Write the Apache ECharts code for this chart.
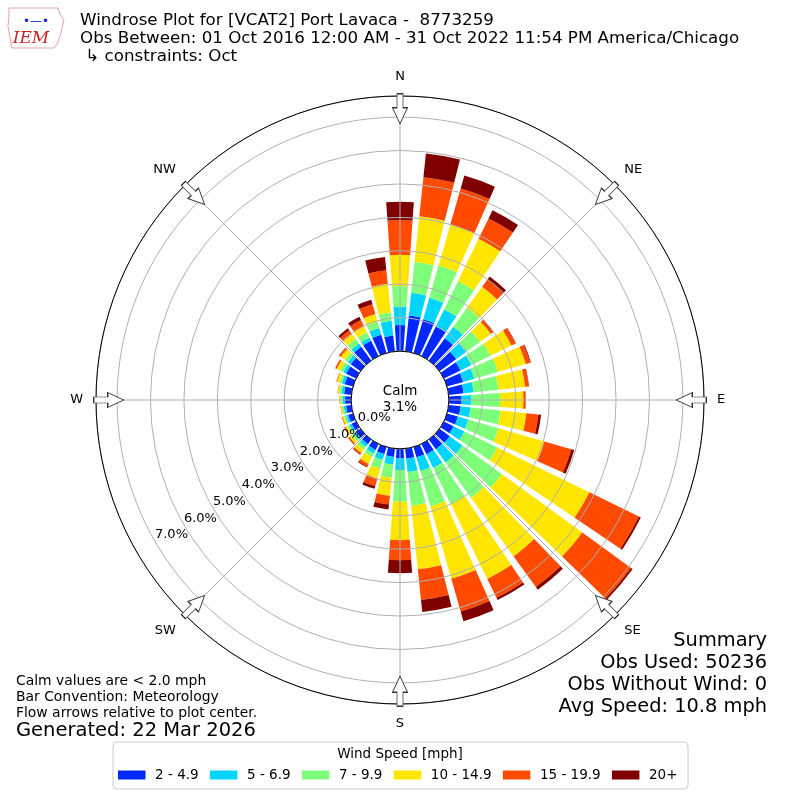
<!DOCTYPE html>
<html><head><meta charset="utf-8">
<script src="https://cdn.jsdelivr.net/npm/echarts@6/dist/echarts.min.js"></script>
<style>html,body{margin:0;padding:0;background:#fff}#c{width:800px;height:800px}</style>
</head><body><div id="c"></div>
<script>
// ---- data (percent of observations) ----
const directions = [0,10,20,30,40,50,60,70,80,90,100,110,120,130,140,150,160,170,180,190,200,210,220,230,240,250,260,270,280,290,300,310,320,330,340,350];
const speedBins = ['2 - 4.9','5 - 6.9','7 - 9.9','10 - 14.9','15 - 19.9','20+'];
const binColors = ['#0028ff','#00d4ff','#7dff7a','#ffe600','#ff4a00','#800000'];
const pct_2_5   = [0.78,1.08,1.05,0.98,0.82,0.62,0.55,0.50,0.45,0.38,0.36,0.34,0.32,0.38,0.36,0.34,0.32,0.30,0.28,0.25,0.22,0.20,0.17,0.16,0.15,0.15,0.16,0.18,0.22,0.26,0.33,0.36,0.51,0.51,0.57,0.48];
const pct_5_7   = [0.55,0.68,0.67,0.57,0.43,0.36,0.37,0.35,0.30,0.30,0.30,0.32,0.36,0.47,0.49,0.46,0.43,0.40,0.35,0.23,0.18,0.12,0.10,0.08,0.07,0.07,0.07,0.08,0.08,0.09,0.10,0.11,0.12,0.11,0.21,0.44];
const pct_7_10  = [0.62,0.93,1.00,0.95,0.70,0.52,0.63,0.73,0.75,0.85,0.90,0.94,1.10,1.45,1.30,1.20,1.10,1.02,0.95,0.39,0.28,0.12,0.11,0.08,0.07,0.06,0.05,0.05,0.06,0.07,0.10,0.11,0.17,0.17,0.20,0.25];
const pct_10_15 = [0.93,1.37,1.28,1.40,0.77,0.40,0.70,0.87,0.80,0.70,0.78,1.43,3.06,2.98,2.17,2.49,2.25,1.91,1.15,0.55,0.30,0.23,0.12,0.09,0.07,0.05,0.04,0.03,0.05,0.08,0.12,0.15,0.18,0.20,0.23,0.86];
const pct_15_20 = [1.04,1.18,1.12,0.68,0.26,0.08,0.14,0.14,0.11,0.06,0.36,0.84,1.65,1.80,1.13,0.63,1.02,0.92,0.60,0.26,0.24,0.09,0.06,0.04,0.03,0.02,0.01,0.01,0.01,0.02,0.05,0.06,0.14,0.21,0.31,0.41];
const pct_20p   = [0.55,0.71,0.40,0.27,0.12,0.02,0.01,0.02,0.01,0.01,0.08,0.09,0.06,0.06,0.10,0.07,0.30,0.36,0.39,0.15,0.08,0.02,0.01,0.01,0.01,0,0,0,0,0,0,0.01,0.07,0.11,0.14,0.40];
const compassLabels = ['N','NE','E','SE','S','SW','W','NW'];
const arrowBearings = [0,45,90,135,180,225,270,315];
const radiusMax = 7.63;
const arrowRadius = 7.25;
const calmPct = '3.1%';

const FONT = 'DejaVu Sans';
const seriesData = [pct_2_5, pct_5_7, pct_7_10, pct_10_15, pct_15_20, pct_20p];

const chart = echarts.init(document.getElementById('c'), null, {renderer: 'canvas'});
const barSeries = speedBins.map((name, i) => ({
  type: 'bar', name, coordinateSystem: 'polar', polarIndex: 0, stack: 'wind',
  data: seriesData[i], barCategoryGap: '20%', z: 2,
  itemStyle: {color: binColors[i]}, emphasis: {disabled: true}, silent: true
}));

const option = {
  animation: false,
  backgroundColor: '#ffffff',
  polar: [
    {center: ['50%', '50%'], radius: [48.9, 304]},
    {center: ['50%', '50%'], radius: [48.9, 304]},
    {center: ['50%', '50%'], radius: [48.9, 304]}
  ],
  angleAxis: [
    {polarIndex: 0, type: 'category', data: directions.map(String), startAngle: 95, clockwise: true,
     axisLine: {show: false}, axisTick: {show: false}, axisLabel: {show: false}, splitLine: {show: false}, z: 1},
    {polarIndex: 1, type: 'value', min: 0, max: 360, interval: 45, startAngle: 90, clockwise: true,
     axisLine: {lineStyle: {color: '#000', width: 1}}, axisTick: {show: false},
     axisLabel: {margin: 13, fontSize: 13, color: '#000', fontFamily: FONT,
       formatter: v => (v >= 360 ? '' : compassLabels[Math.round(v / 45)])},
     splitLine: {lineStyle: {color: '#b0b0b0', width: 1}}, z: 4},
    {polarIndex: 2, type: 'value', min: 0, max: 360, startAngle: 210, clockwise: true, show: false}
  ],
  radiusAxis: [
    {polarIndex: 0, type: 'value', min: 0, max: radiusMax, show: false},
    {polarIndex: 1, type: 'value', min: 0, max: radiusMax, interval: 1,
     axisLine: {show: false}, axisTick: {show: false}, axisLabel: {show: false},
     splitLine: {lineStyle: {color: '#b0b0b0', width: 1}}, z: 3},
    {polarIndex: 2, type: 'value', min: 0, max: radiusMax, interval: 1,
     axisLine: {show: false}, axisTick: {show: false}, splitLine: {show: false},
     axisLabel: {margin: 0, align: 'left', verticalAlign: 'bottom', fontSize: 13, color: '#000', fontFamily: FONT,
       showMaxLabel: false,
       formatter: v => (Math.abs(v - Math.round(v)) < 1e-6 ? v.toFixed(1) + '%' : '')}, z: 6}
  ],
  legend: {
    data: speedBins, left: 113, top: 763, itemWidth: 27.5, itemHeight: 9, itemGap: 11.3,
    icon: 'rect', selectedMode: false,
    textStyle: {fontSize: 13.5, fontFamily: FONT, color: '#000', padding: [0, 0, 0, 4.6]}
  },
  series: barSeries.concat([{
    type: 'scatter', coordinateSystem: 'polar', polarIndex: 1, silent: true, z: 10,
    data: arrowBearings.map(b => [arrowRadius, b]),
    symbol: 'path://M4.5,0 L10.5,0 L10.5,14 L15,14 L7.5,30 L0,14 L4.5,14 Z',
    symbolSize: [15, 30],
    symbolRotate: (val) => -val[1],
    itemStyle: {color: '#ffffff', borderColor: '#333', borderWidth: 1, opacity: 1}
  }]),
  graphic: [
    {type: 'rect', z: 0, shape: {x: 113, y: 742, width: 575, height: 47, r: 4},
     style: {fill: '#ffffff', stroke: '#cccccc', lineWidth: 1}},
    {type: 'text', x: 400, y: 754, z: 5,
     style: {text: 'Wind Speed [mph]', align: 'center', verticalAlign: 'middle', fontSize: 13.5, fontFamily: FONT, fill: '#000'}},
    {type: 'text', x: 80, y: 12, z: 5,
     style: {text: 'Windrose Plot for [VCAT2] Port Lavaca -  8773259\nObs Between: 01 Oct 2016 12:00 AM - 31 Oct 2022 11:54 PM America/Chicago\n \u21B3 constraints: Oct',
       align: 'left', verticalAlign: 'top', fontSize: 16.7, lineHeight: 18, fontFamily: FONT, fill: '#000'}},
    {type: 'text', x: 16, y: 673, z: 5,
     style: {text: 'Calm values are < 2.0 mph\nBar Convention: Meteorology\nFlow arrows relative to plot center.',
       align: 'left', verticalAlign: 'top', fontSize: 13.9, lineHeight: 16, fontFamily: FONT, fill: '#000'}},
    {type: 'text', x: 16, y: 720, z: 5,
     style: {text: 'Generated: 22 Mar 2026', align: 'left', verticalAlign: 'top', fontSize: 19.5, lineHeight: 21, fontFamily: FONT, fill: '#000'}},
    {type: 'text', x: 767, y: 630, z: 5,
     style: {text: 'Summary\nObs Used: 50236\nObs Without Wind: 0\nAvg Speed: 10.8 mph',
       align: 'right', verticalAlign: 'top', fontSize: 19.4, lineHeight: 22, fontFamily: FONT, fill: '#000'}},
    {type: 'text', x: 400, y: 399, z: 5,
     style: {text: 'Calm\n' + calmPct, align: 'center', verticalAlign: 'middle', fontSize: 13.5, lineHeight: 16, fontFamily: FONT, fill: '#000'}},
    {type: 'polygon', z: 5,
     shape: {points: [[9,8],[58,8],[60,14],[64,20],[62,28],[60,36],[57,44],[54,48],[12,48],[10,38],[8,26],[9,16]]},
     style: {fill: 'none', stroke: '#e8a0a0', lineWidth: 1}},
    {type: 'text', x: 31, y: 39, z: 6,
     style: {text: 'IEM', align: 'center', verticalAlign: 'middle', fontSize: 17, fontStyle: 'italic', fontFamily: 'DejaVu Serif', fill: '#cc2222'}},
    {type: 'text', x: 36, y: 22, z: 6,
     style: {text: '\u2022\u2014\u2022', align: 'center', verticalAlign: 'middle', fontSize: 12, fontFamily: FONT, fill: '#1a2ad0'}}
  ]
};
chart.setOption(option);
</script>
</body></html>
